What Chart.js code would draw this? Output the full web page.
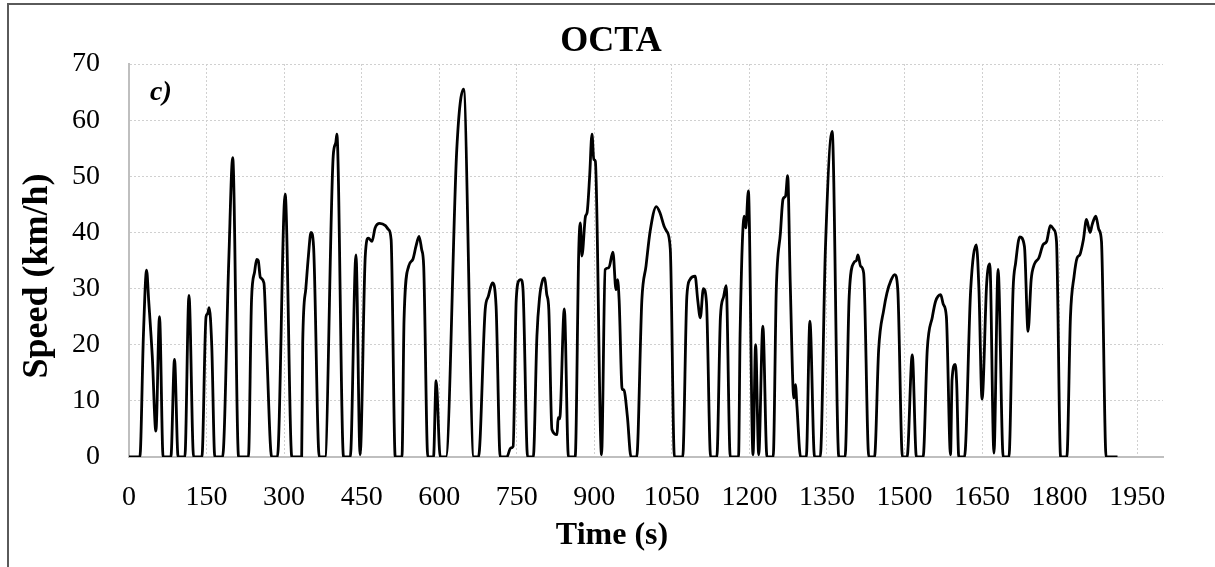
<!DOCTYPE html>
<html>
<head>
<meta charset="utf-8">
<script src="https://cdn.jsdelivr.net/npm/chart.js@4.4.1/dist/chart.umd.min.js"></script>
<style>
  html, body { margin: 0; padding: 0; background: #fff; overflow: hidden; }
  #wrap { position: relative; width: 1215px; height: 567px; }
  #frame { position: absolute; left: 7px; top: 3px; width: 1300px; height: 700px;
           border-left: 2px solid #5a5a5a; border-top: 2px solid #5a5a5a; pointer-events: none; }
  canvas { position: absolute; left: 0; top: 0; }
</style>
</head>
<body>
<div id="wrap">
  <canvas id="c" width="1215" height="567"></canvas>
  <div id="frame"></div>
</div>
<script>
// ---- Data ----
const chartTitle = "OCTA";
const panelLabel = "c)";
const xAxisTitle = "Time (s)";
const yAxisTitle = "Speed (km/h)";
const xTickValues = [0,150,300,450,600,750,900,1050,1200,1350,1500,1650,1800,1950];
const yTickValues = [0,10,20,30,40,50,60,70];
const timeS = [
  0,21,28,34,38,45,52,59,66,81,88,95,108,116,125,141,149,152,155,160,166,181,193,200.6,212,231,
  237,243,247,250,254,261,266,276,287,302,315,334,336,342,347,352,357,368,379,395,400,402,415,428,
  439,447,457,463,470,476,485,496,502,507,515,528,532,541,549,555,561,566,570,578,589,594,602,613,
  634,647,667,676,689,695,703,710,718,731,738,743,749,755,758,762,771,782,789,794,800,804,808,812,
  818,828,830,833,842,850,863,870,873,876,883,886,891,895.5,899,902,914,921,928,936,942,945,948,954,
  957,964,971,982,992,1000,1008,1020,1027,1035,1040,1047,1055,1071,1079,1085,1095,1100,1105,1111,
  1117,1125,1137,1144,1150,1155,1163,1179,1182,1190,1193,1198,1207,1212,1218,1226,1234,1246,1252,
  1260,1265,1270,1274,1279,1286,1289,1292,1299,1310,1317,1326,1337,1347,1360,1373,1385,1393,1402,
  1407,1410,1415,1421,1431,1442,1450,1460,1466,1474,1481,1487,1496,1505,1515,1523,1536,1544,1554,
  1560,1570,1575,1581,1589,1592,1598,1601,1605,1616,1628,1639,1644,1650,1659,1665,1673,1681,1691,
  1702,1710,1715,1723,1732,1739,1745,1751,1760,1768,1775,1782,1789,1794,1802,1814,1821,1828,1834,
  1839,1846,1852,1859,1863,1870,1876,1881,1890,1912
];
const speedKmh = [
  0,0,22,33.3,28,18,4.6,25,0,0,17.4,0,0,28.8,0,0,25,25.5,26.6,20,0,0,35,53.3,0,0,
  28,33,35.2,35,32,31,20,0,0,46.8,0,0,20.3,30,35.8,40,37.5,0,0,53.6,56,57.5,0,0,
  36,0.4,35.8,39,38.4,40.8,41.6,41.2,40.5,38.7,0,0,24.5,34,35.2,37.5,39.3,37,34,0,0,13.6,0,0,
  54.8,65.5,0,0,26.3,28.6,31,26.9,0,0,1.6,1.9,28,31.5,31.6,30,0,0,21.5,28.3,31.5,31.9,29,26.3,
  4.9,4,7,6.8,26.4,0,0,37,41.7,35.8,42.9,43.5,50,57.5,53,52.7,0.4,33.4,33.7,36.5,29.8,31.6,28,12,
  12,7.2,0,0,28,34,40.2,44.6,43.5,41.1,40.2,37,0,0,28.6,31.6,32.2,28,24.8,30,
  27.5,0,0,25,28.5,30.5,0,0,21.8,42.9,40.8,47.4,0.4,20,0.4,23.3,0,0,29.8,
  39.9,45.9,46.5,50.1,31,10.5,12.9,9,0,0,24.2,0,0,37,58,0,0,28.6,34.6,
  35,36,34,32.8,0,0,19.1,26.3,29.2,31.5,32.5,29.8,0,0,18.2,0,0,19.1,25,
  27.7,28.9,27.2,25,0.4,13.8,16.5,13,0,0,29.8,37.8,29.8,10.3,31,34.4,0.7,33.4,0,
  0,29.8,34.6,39.2,37.5,22.4,31.6,34.3,35.5,37.8,38.4,41.2,40.5,38.4,0,0,25,32.2,35.5,
  36,38.7,42.3,40,41.4,42.9,40.5,38.4,0,0
];

const FONT = "'Liberation Serif', 'Times New Roman', serif";
const points = timeS.map((t, i) => ({ x: t, y: speedKmh[i] }));

const textPlugin = {
  id: 'texts',
  afterDraw(chart) {
    const ctx = chart.ctx;
    const a = chart.chartArea;
    ctx.save();
    ctx.fillStyle = '#000';
    ctx.textAlign = 'center';
    ctx.textBaseline = 'middle';
    ctx.font = "bold 36px " + FONT;
    ctx.fillText(chartTitle, 611, 42);
    ctx.font = "bold 32px " + FONT;
    ctx.fillText(xAxisTitle, 612, 536);
    ctx.save();
    ctx.translate(38, 276);
    ctx.rotate(-Math.PI / 2);
    ctx.font = "bold 36px " + FONT;
    ctx.fillText(yAxisTitle, 0, 0);
    ctx.restore();
    ctx.textAlign = 'left';
    ctx.font = "italic bold 28px " + FONT;
    ctx.fillText(panelLabel, a.left + 21, 93);
    ctx.restore();
  }
};

new Chart(document.getElementById('c'), {
  type: 'line',
  data: {
    datasets: [{
      data: points,
      borderColor: '#000',
      borderWidth: 2.8,
      pointRadius: 0,
      fill: false,
      cubicInterpolationMode: 'monotone'
    }]
  },
  options: {
    responsive: false,
    animation: false,
    devicePixelRatio: 1,
    layout: { padding: { left: 0, right: 52, top: 64, bottom: 0 } },
    plugins: { legend: { display: false }, tooltip: { enabled: false }, title: { display: false } },
    scales: {
      x: {
        type: 'linear',
        min: 0, max: 2000,
        afterBuildTicks: s => { s.ticks = xTickValues.map(v => ({ value: v })); },
        afterFit: s => { s.height = 110; },
        ticks: { color: '#000', font: { family: FONT, size: 28 }, padding: 24, maxRotation: 0, autoSkip: false,
                 callback: v => String(v) },
        grid: { color: '#d0d0d0', lineWidth: 1, drawTicks: false },
        border: { display: true, color: '#bfbfbf', width: 2, dash: [2, 2] }
      },
      y: {
        min: 0, max: 70,
        afterBuildTicks: s => { s.ticks = yTickValues.map(v => ({ value: v })); },
        afterFit: s => { s.width = 129; },
        ticks: { color: '#000', font: { family: FONT, size: 28 }, padding: 29, callback: v => String(v) },
        grid: { color: '#d0d0d0', lineWidth: 1, drawTicks: false },
        border: { display: true, color: '#bfbfbf', width: 2, dash: [2, 2] }
      }
    }
  },
  plugins: [textPlugin]
});
</script>
</body>
</html>
